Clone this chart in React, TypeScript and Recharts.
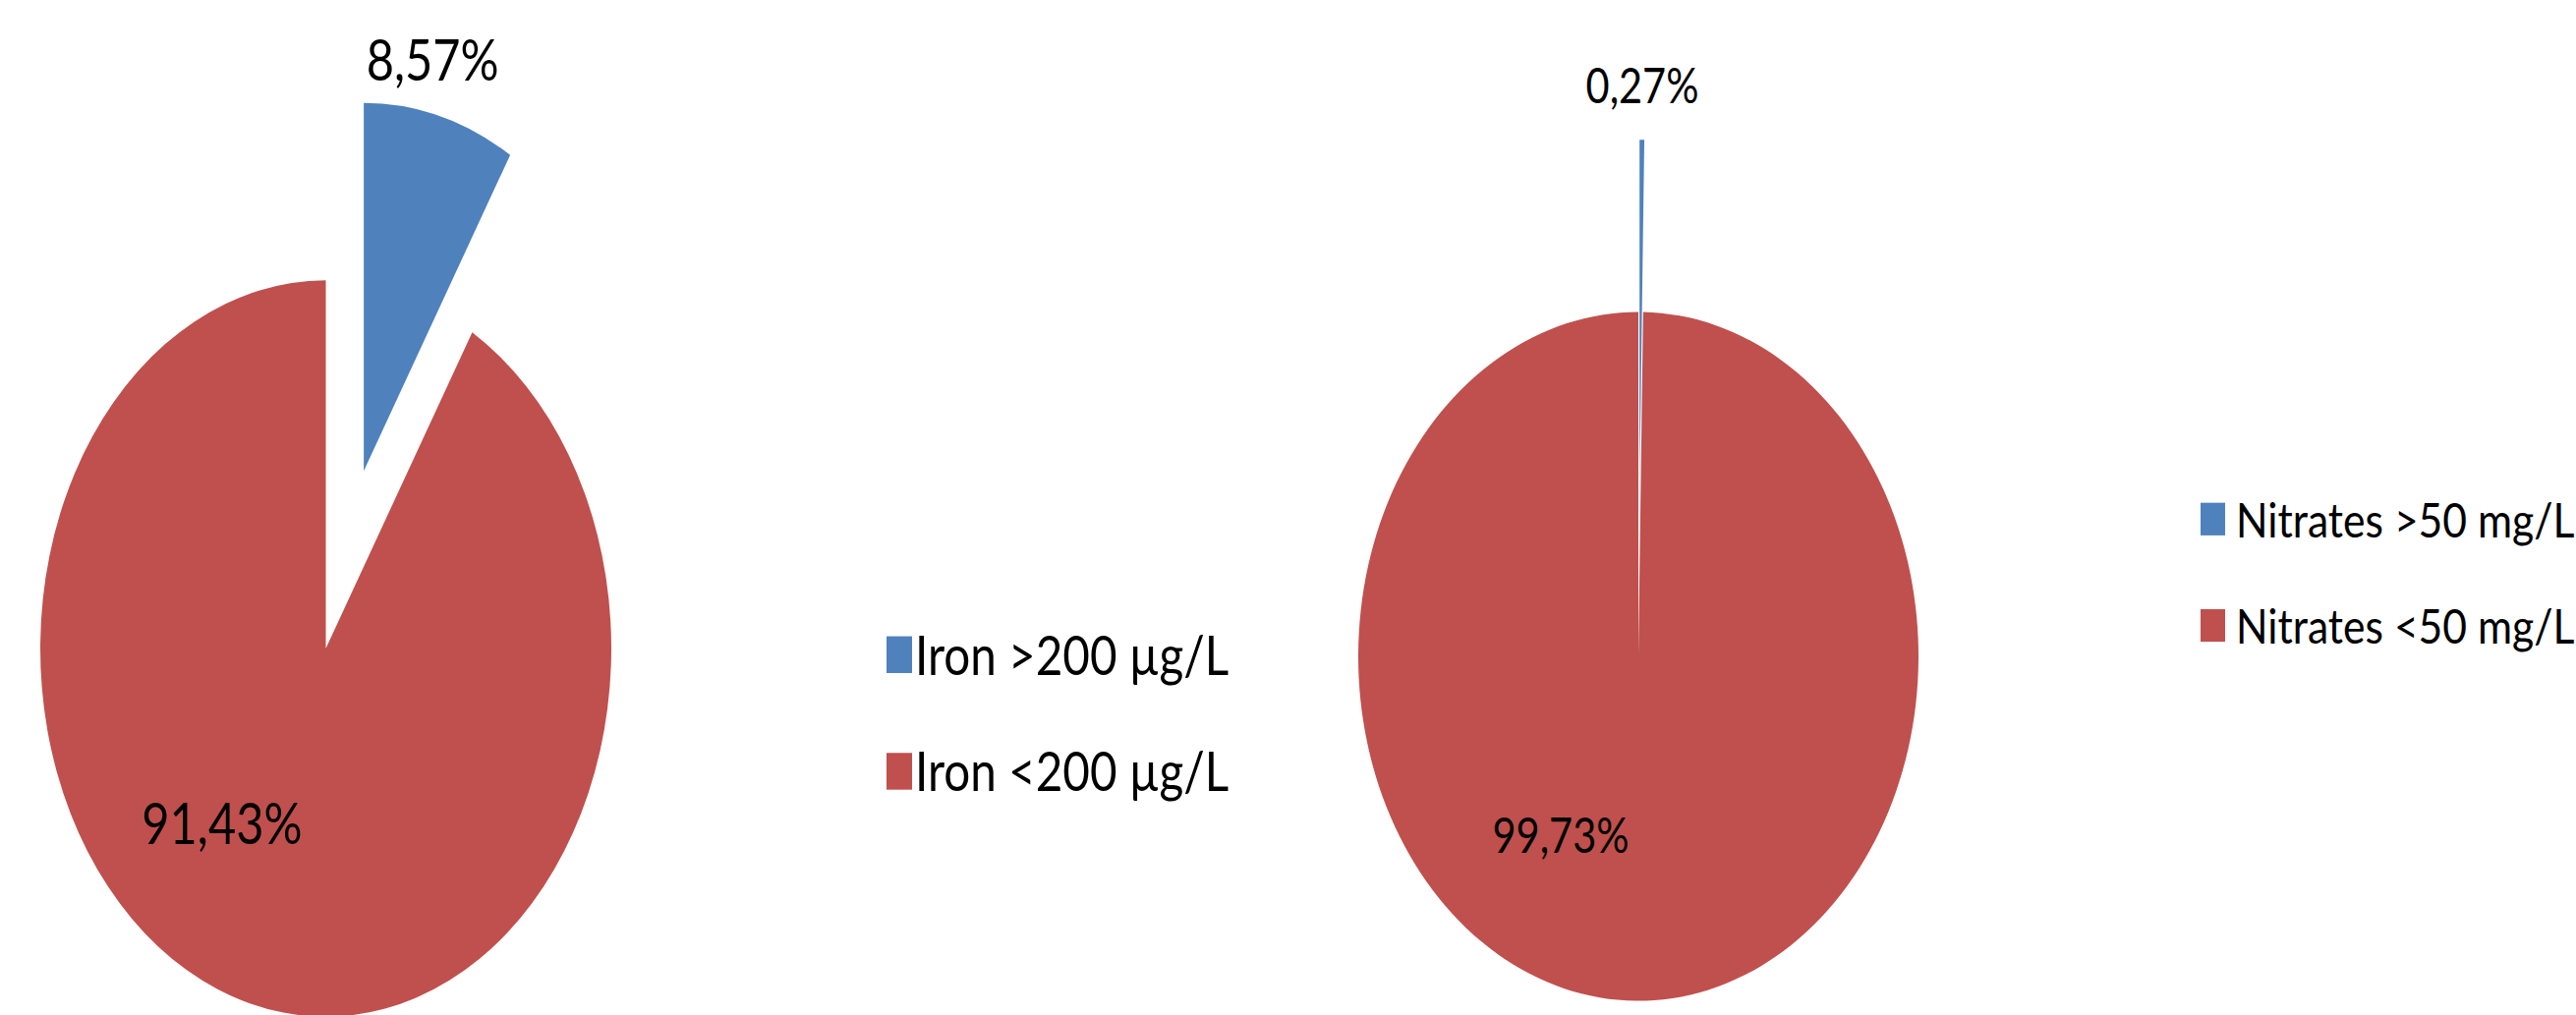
import React from 'react';
import { PieChart, Pie, Cell, Legend } from 'recharts';

// values (percent of samples)
const ironCategories = ['Iron >200 µg/L', 'Iron <200 µg/L'];
const ironShares = [8.57, 91.43];

const nitrateCategories = ['Nitrates >50 mg/L', 'Nitrates <50 mg/L'];
const nitrateShares = [0.27, 99.73];

const sliceColors = ['#4F81BD', '#C0504D'];
const explodedSlice = 0;
const EXPLODE = 0.5; // share of the radius the first slice is pulled out

const FONT = "Lato, 'Open Sans', sans-serif";
const RAD = Math.PI / 180;
const PAGE_H = 1033;

const fmt = (v: number) => v.toFixed(2).replace('.', ',') + '%';

type Panel = {
  x: number;
  width: number;
  k: number; // the original pies are stretched vertically
  cx: number;
  cy: number;
  r: number;
  labelFont: number;
  labelSx: number;
  outsideR: number;
  outsideShift: number;
  insideR: number;
  insideShift: number;
  legendX: number;
  legendFirst: number;
  legendGap: number;
  keyW: number;
  keyH: number;
  keyGap: number;
  legendFont: number;
  legendSx: number;
};

const LEFT_PANEL: Panel = {
  x: 0, width: 1290, k: 1.29, cx: 331.5, cy: 660, r: 290.5,
  labelFont: 58, labelSx: 0.84, outsideR: 1.146, outsideShift: 3.3, insideR: 0.594, insideShift: -22.3,
  legendX: 902, legendFirst: 666, legendGap: 119, keyW: 26, keyH: 38, keyGap: 3, legendFont: 56, legendSx: 0.85,
};

const RIGHT_PANEL: Panel = {
  x: 1290, width: 1331, k: 1.23, cx: 377, cy: 668, r: 285,
  labelFont: 50, labelSx: 0.83, outsideR: 1.16, outsideShift: 0, insideR: 0.587, insideShift: -27.7,
  legendX: 949, legendFirst: 528.5, legendGap: 108, keyW: 25, keyH: 33, keyGap: 11, legendFont: 49, legendSx: 0.87,
};

const PiePanel = ({ panel, categories, shares }: { panel: Panel; categories: string[]; shares: number[] }) => {
  const { k } = panel;
  const h = PAGE_H / k;
  const cx = panel.cx;
  const cy = panel.cy / k;
  const data = categories.map((name, i) => ({ name, value: shares[i] }));

  // shift of the exploded slice along its bisector
  const total = shares.reduce((a, b) => a + b, 0);
  const before = shares.slice(0, explodedSlice).reduce((a, b) => a + b, 0);
  const mid = ((before + shares[explodedSlice] / 2) / total) * 360 * RAD;
  const ex = cx + EXPLODE * panel.r * Math.sin(mid);
  const ey = cy - EXPLODE * panel.r * Math.cos(mid);

  const label = (outside: boolean) => (p: any) => {
    if ((p.index === explodedSlice) !== outside) return <g />;
    const ang = (p.midAngle + (outside ? panel.outsideShift : panel.insideShift)) * RAD;
    const rr = p.outerRadius * (outside ? panel.outsideR : panel.insideR);
    const x = p.cx + rr * Math.cos(ang);
    const y = p.cy - rr * Math.sin(ang);
    const v = p.value ?? p.payload?.value;
    return (
      <text
        x={x}
        y={y}
        textAnchor="middle"
        dominantBaseline="central"
        fill="#000"
        fontSize={panel.labelFont}
        fontFamily={FONT}
        transform={`translate(${x} ${y}) scale(${panel.labelSx} ${1 / k}) translate(${-x} ${-y})`}
      >
        {fmt(v)}
      </text>
    );
  };

  const legendContent = () => (
    <div style={{ fontFamily: FONT }}>
      {categories.map((name, i) => (
        <div key={name} style={{ height: panel.legendGap / k, display: 'flex', alignItems: 'center' }}>
          <div style={{ width: panel.keyW, height: panel.keyH / k, background: sliceColors[i], marginRight: panel.keyGap }} />
          <span
            style={{
              display: 'inline-block',
              fontSize: panel.legendFont,
              lineHeight: 1,
              color: '#000',
              whiteSpace: 'nowrap',
              transform: `scale(${panel.legendSx}, ${1 / k})`,
              transformOrigin: 'left center',
            }}
          >
            {name}
          </span>
        </div>
      ))}
    </div>
  );

  return (
    <div
      style={{
        position: 'absolute',
        left: panel.x,
        top: 0,
        width: panel.width,
        height: h,
        transform: `scaleY(${k})`,
        transformOrigin: '0 0',
      }}
    >
      <PieChart width={panel.width} height={h} margin={{ top: 0, right: 0, bottom: 0, left: 0 }}>
        <Pie
          data={data}
          dataKey="value"
          nameKey="name"
          cx={cx}
          cy={cy}
          outerRadius={panel.r}
          startAngle={90}
          endAngle={-270}
          stroke="none"
          isAnimationActive={false}
          labelLine={false}
          label={label(false)}
        >
          {data.map((d, i) => (
            <Cell key={d.name} fill={i === explodedSlice ? 'transparent' : sliceColors[i]} stroke="none" />
          ))}
        </Pie>
        <Pie
          data={data}
          dataKey="value"
          nameKey="name"
          cx={ex}
          cy={ey}
          outerRadius={panel.r}
          startAngle={90}
          endAngle={-270}
          stroke="none"
          legendType="none"
          isAnimationActive={false}
          labelLine={false}
          label={label(true)}
        >
          {data.map((d, i) => (
            <Cell key={d.name} fill={i === explodedSlice ? sliceColors[i] : 'transparent'} stroke="none" />
          ))}
        </Pie>
        <Legend
          layout="vertical"
          align="center"
          verticalAlign="middle"
          content={legendContent}
          wrapperStyle={{
            left: panel.legendX,
            top: (panel.legendFirst - panel.legendGap / 2) / k,
            width: 'auto',
            height: 'auto',
          }}
        />
      </PieChart>
    </div>
  );
};

export default function App() {
  return (
    <div style={{ position: 'absolute', left: 0, top: 0, width: 2621, height: PAGE_H, background: '#fff', overflow: 'hidden' }}>
      <PiePanel panel={LEFT_PANEL} categories={ironCategories} shares={ironShares} />
      <PiePanel panel={RIGHT_PANEL} categories={nitrateCategories} shares={nitrateShares} />
    </div>
  );
}
